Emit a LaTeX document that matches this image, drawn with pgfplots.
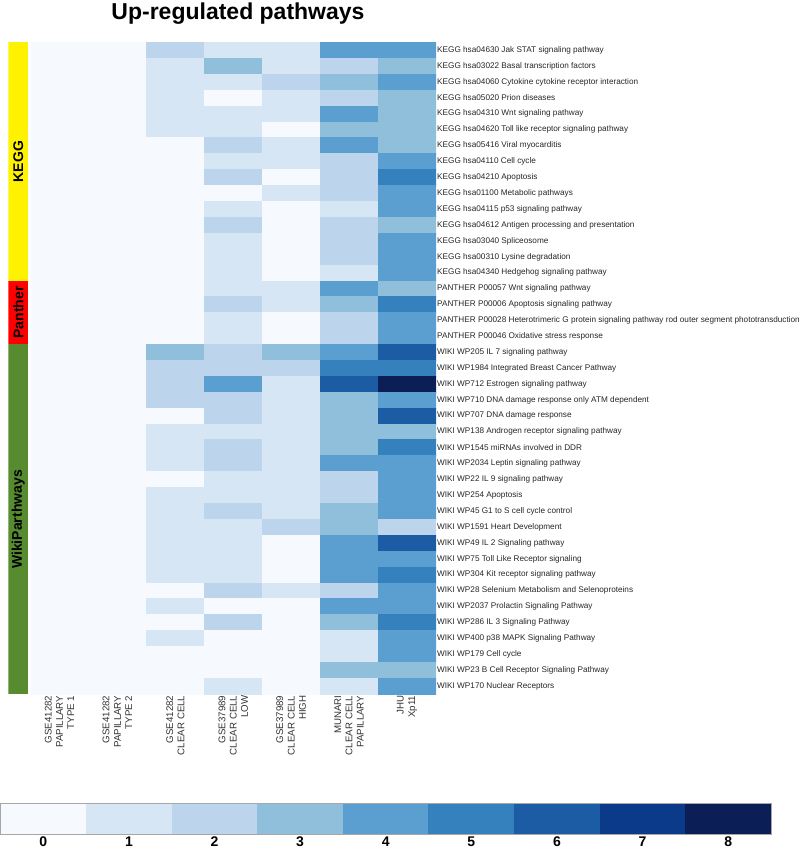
\documentclass[border=0pt]{standalone}
\usepackage{fontspec}
\setmainfont{Liberation Sans}
\usepackage{pgfplots}
\pgfplotsset{compat=1.18}

\definecolor{wikigreen}{RGB}{86,139,47}
\pgfplotsset{
  colormap={upblues}{rgb255=(246,250,255) rgb255=(214,230,245) rgb255=(188,213,236)
    rgb255=(144,191,220) rgb255=(90,159,207) rgb255=(53,129,189) rgb255=(28,92,165)
    rgb255=(11,58,138) rgb255=(11,31,86)},
}

\begin{document}
\begin{tikzpicture}
\useasboundingbox (0,0) rectangle (800bp,-849bp);

\node[font=\bfseries\fontsize{23bp}{26bp}\selectfont] at (238bp,-14bp) {Up-regulated pathways};

% database side bar
\begin{axis}[
  at={(8.3bp,-42.3bp)}, anchor=north west, scale only axis,
  width=20bp, height=651.7bp,
  xmin=-0.5, xmax=0.5, ymin=0, ymax=41, y dir=reverse,
  hide axis, ybar stacked, bar width=1]
\addplot[fill=yellow, draw=none] coordinates {(0,15)};
\addplot[fill=red, draw=none] coordinates {(0,4)};
\addplot[fill=wikigreen, draw=none] coordinates {(0,22)};
\end{axis}
\node[rotate=90, font=\bfseries\fontsize{14bp}{16bp}\selectfont] at (18.3bp,-161.5bp) {KEGG};
\node[rotate=90, font=\bfseries\fontsize{14bp}{16bp}\selectfont] at (18.3bp,-312.5bp) {Panther};
\node[rotate=90, font=\bfseries\fontsize{14bp}{16bp}\selectfont] at (18.3bp,-519.5bp) {WikiParthways};

% heatmap
\begin{axis}[
  at={(30.5bp,-42.3bp)}, anchor=north west, scale only axis,
  width=405.5bp, height=651.7bp,
  xmin=-0.5, xmax=6.5, ymin=-0.5, ymax=40.5, y dir=reverse, enlargelimits=false,
  colormap name=upblues, colormap access=direct,
  axis line style={draw=none}, major tick length=0pt,
  xtick={0,...,6},
  xticklabels={{GSE41282\\PAPILLARY\\TYPE 1},{GSE41282\\PAPILLARY\\TYPE 2},
    {GSE41282\\CLEAR CELL},{GSE37989\\CLEAR CELL\\LOW},{GSE37989\\CLEAR CELL\\HIGH},
    {MUNARI\\CLEAR CELL\\PAPILLARY},{JHU\\Xp11}},
  xticklabel style={rotate=90, anchor=east, align=right, inner sep=1.5bp,
    font=\fontsize{9.7bp}{11.3bp}\selectfont, text=black!80},
  ytick={0,...,40}, yticklabel pos=right,
  yticklabel style={anchor=west, inner sep=1bp,
    font=\fontsize{8.2bp}{10bp}\selectfont, text=black!85},
  yticklabels={
    KEGG hsa04630 Jak STAT signaling pathway,
    KEGG hsa03022 Basal transcription factors,
    KEGG hsa04060 Cytokine cytokine receptor interaction,
    KEGG hsa05020 Prion diseases,
    KEGG hsa04310 Wnt signaling pathway,
    KEGG hsa04620 Toll like receptor signaling pathway,
    KEGG hsa05416 Viral myocarditis,
    KEGG hsa04110 Cell cycle,
    KEGG hsa04210 Apoptosis,
    KEGG hsa01100 Metabolic pathways,
    KEGG hsa04115 p53 signaling pathway,
    KEGG hsa04612 Antigen processing and presentation,
    KEGG hsa03040 Spliceosome,
    KEGG hsa00310 Lysine degradation,
    KEGG hsa04340 Hedgehog signaling pathway,
    PANTHER P00057 Wnt signaling pathway,
    PANTHER P00006 Apoptosis signaling pathway,
    PANTHER P00028 Heterotrimeric G protein signaling pathway rod outer segment phototransduction,
    PANTHER P00046 Oxidative stress response,
    WIKI WP205 IL 7 signaling pathway,
    WIKI WP1984 Integrated Breast Cancer Pathway,
    WIKI WP712 Estrogen signaling pathway,
    WIKI WP710 DNA damage response only ATM dependent,
    WIKI WP707 DNA damage response,
    WIKI WP138 Androgen receptor signaling pathway,
    WIKI WP1545 miRNAs involved in DDR,
    WIKI WP2034 Leptin signaling pathway,
    WIKI WP22 IL 9 signaling pathway,
    WIKI WP254 Apoptosis,
    WIKI WP45 G1 to S cell cycle control,
    WIKI WP1591 Heart Development,
    WIKI WP49 IL 2 Signaling pathway,
    WIKI WP75 Toll Like Receptor signaling,
    WIKI WP304 Kit receptor signaling pathway,
    WIKI WP28 Selenium Metabolism and Selenoproteins,
    WIKI WP2037 Prolactin Signaling Pathway,
    WIKI WP286 IL 3 Signaling Pathway,
    WIKI WP400 p38 MAPK Signaling Pathway,
    WIKI WP179 Cell cycle,
    WIKI WP23 B Cell Receptor Signaling Pathway,
    WIKI WP170 Nuclear Receptors},
]
\addplot[matrix plot*, mesh/cols=7, point meta=explicit] coordinates {
(0,0)[0] (1,0)[0] (2,0)[2] (3,0)[1] (4,0)[1] (5,0)[4] (6,0)[4]
(0,1)[0] (1,1)[0] (2,1)[1] (3,1)[3] (4,1)[1] (5,1)[2] (6,1)[3]
(0,2)[0] (1,2)[0] (2,2)[1] (3,2)[1] (4,2)[2] (5,2)[3] (6,2)[4]
(0,3)[0] (1,3)[0] (2,3)[1] (3,3)[0] (4,3)[1] (5,3)[2] (6,3)[3]
(0,4)[0] (1,4)[0] (2,4)[1] (3,4)[1] (4,4)[1] (5,4)[4] (6,4)[3]
(0,5)[0] (1,5)[0] (2,5)[1] (3,5)[1] (4,5)[0] (5,5)[3] (6,5)[3]
(0,6)[0] (1,6)[0] (2,6)[0] (3,6)[2] (4,6)[1] (5,6)[4] (6,6)[3]
(0,7)[0] (1,7)[0] (2,7)[0] (3,7)[1] (4,7)[1] (5,7)[2] (6,7)[4]
(0,8)[0] (1,8)[0] (2,8)[0] (3,8)[2] (4,8)[0] (5,8)[2] (6,8)[5]
(0,9)[0] (1,9)[0] (2,9)[0] (3,9)[0] (4,9)[1] (5,9)[2] (6,9)[4]
(0,10)[0] (1,10)[0] (2,10)[0] (3,10)[1] (4,10)[0] (5,10)[1] (6,10)[4]
(0,11)[0] (1,11)[0] (2,11)[0] (3,11)[2] (4,11)[0] (5,11)[2] (6,11)[3]
(0,12)[0] (1,12)[0] (2,12)[0] (3,12)[1] (4,12)[0] (5,12)[2] (6,12)[4]
(0,13)[0] (1,13)[0] (2,13)[0] (3,13)[1] (4,13)[0] (5,13)[2] (6,13)[4]
(0,14)[0] (1,14)[0] (2,14)[0] (3,14)[1] (4,14)[0] (5,14)[1] (6,14)[4]
(0,15)[0] (1,15)[0] (2,15)[0] (3,15)[1] (4,15)[1] (5,15)[4] (6,15)[3]
(0,16)[0] (1,16)[0] (2,16)[0] (3,16)[2] (4,16)[1] (5,16)[3] (6,16)[5]
(0,17)[0] (1,17)[0] (2,17)[0] (3,17)[1] (4,17)[0] (5,17)[2] (6,17)[4]
(0,18)[0] (1,18)[0] (2,18)[0] (3,18)[1] (4,18)[0] (5,18)[2] (6,18)[4]
(0,19)[0] (1,19)[0] (2,19)[3] (3,19)[2] (4,19)[3] (5,19)[4] (6,19)[6]
(0,20)[0] (1,20)[0] (2,20)[2] (3,20)[2] (4,20)[2] (5,20)[5] (6,20)[5]
(0,21)[0] (1,21)[0] (2,21)[2] (3,21)[4] (4,21)[1] (5,21)[6] (6,21)[8]
(0,22)[0] (1,22)[0] (2,22)[2] (3,22)[2] (4,22)[1] (5,22)[3] (6,22)[4]
(0,23)[0] (1,23)[0] (2,23)[0] (3,23)[2] (4,23)[1] (5,23)[3] (6,23)[6]
(0,24)[0] (1,24)[0] (2,24)[1] (3,24)[1] (4,24)[1] (5,24)[3] (6,24)[3]
(0,25)[0] (1,25)[0] (2,25)[1] (3,25)[2] (4,25)[1] (5,25)[3] (6,25)[5]
(0,26)[0] (1,26)[0] (2,26)[1] (3,26)[2] (4,26)[1] (5,26)[4] (6,26)[4]
(0,27)[0] (1,27)[0] (2,27)[0] (3,27)[1] (4,27)[1] (5,27)[2] (6,27)[4]
(0,28)[0] (1,28)[0] (2,28)[1] (3,28)[1] (4,28)[1] (5,28)[2] (6,28)[4]
(0,29)[0] (1,29)[0] (2,29)[1] (3,29)[2] (4,29)[1] (5,29)[3] (6,29)[4]
(0,30)[0] (1,30)[0] (2,30)[1] (3,30)[1] (4,30)[2] (5,30)[3] (6,30)[2]
(0,31)[0] (1,31)[0] (2,31)[1] (3,31)[1] (4,31)[0] (5,31)[4] (6,31)[6]
(0,32)[0] (1,32)[0] (2,32)[1] (3,32)[1] (4,32)[0] (5,32)[4] (6,32)[4]
(0,33)[0] (1,33)[0] (2,33)[1] (3,33)[1] (4,33)[0] (5,33)[4] (6,33)[5]
(0,34)[0] (1,34)[0] (2,34)[0] (3,34)[2] (4,34)[1] (5,34)[2] (6,34)[4]
(0,35)[0] (1,35)[0] (2,35)[1] (3,35)[0] (4,35)[0] (5,35)[4] (6,35)[4]
(0,36)[0] (1,36)[0] (2,36)[0] (3,36)[2] (4,36)[0] (5,36)[3] (6,36)[5]
(0,37)[0] (1,37)[0] (2,37)[1] (3,37)[0] (4,37)[0] (5,37)[1] (6,37)[4]
(0,38)[0] (1,38)[0] (2,38)[0] (3,38)[0] (4,38)[0] (5,38)[1] (6,38)[4]
(0,39)[0] (1,39)[0] (2,39)[0] (3,39)[0] (4,39)[0] (5,39)[3] (6,39)[3]
(0,40)[0] (1,40)[0] (2,40)[0] (3,40)[1] (4,40)[0] (5,40)[1] (6,40)[4]
};
\end{axis}

% colour key
\begin{axis}[
  at={(0.5bp,-803bp)}, anchor=north west, scale only axis,
  width=770.5bp, height=31.7bp,
  xmin=-0.5, xmax=8.5, ymin=-0.5, ymax=1.5, enlargelimits=false,
  colormap name=upblues, colormap access=direct,
  axis on top, axis line style={draw=black!35, line width=0.6bp},
  major tick length=0pt, ytick=\empty,
  xtick={0,...,8},
  /pgf/number format/assume math mode=true,
  xticklabel style={font=\bfseries\fontsize{14bp}{16bp}\selectfont, inner sep=2bp},
]
\addplot[matrix plot*, mesh/cols=9, point meta=explicit] coordinates {
(0,0)[0] (1,0)[1] (2,0)[2] (3,0)[3] (4,0)[4] (5,0)[5] (6,0)[6] (7,0)[7] (8,0)[8]
(0,1)[0] (1,1)[1] (2,1)[2] (3,1)[3] (4,1)[4] (5,1)[5] (6,1)[6] (7,1)[7] (8,1)[8]
};
\end{axis}
\end{tikzpicture}
\end{document}
